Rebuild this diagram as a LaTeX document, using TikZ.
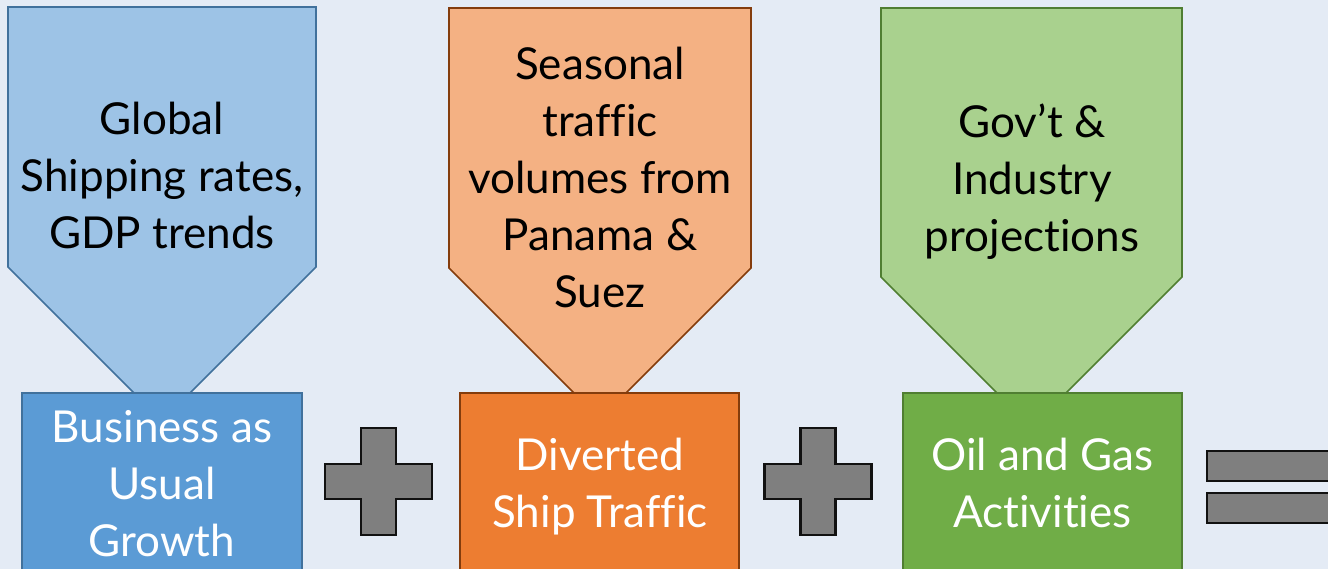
\documentclass[tikz,border=0pt]{standalone}
\usepackage{fontspec}
\setmainfont{Lato}[Ligatures=NoCommon]
\definecolor{bgc}{HTML}{E4EBF5}
\definecolor{blueL}{HTML}{9DC3E6}
\definecolor{blueD}{HTML}{5B9BD5}
\definecolor{blueB}{HTML}{41719C}
\definecolor{orangeL}{HTML}{F4B183}
\definecolor{orangeD}{HTML}{ED7D31}
\definecolor{orangeB}{HTML}{843C0C}
\definecolor{greenL}{HTML}{A9D18E}
\definecolor{greenD}{HTML}{70AD47}
\definecolor{greenB}{HTML}{507E32}
\definecolor{opgray}{HTML}{7F7F7F}
\definecolor{opborder}{HTML}{111111}
\tikzset{
  pent/.style={line width=1.6pt, line join=miter},
  boxshape/.style={line width=2.2pt},
  opshape/.style={fill=opgray, draw=opborder, line width=2.6pt},
  lbl/.style={inner sep=0pt, anchor=base, font=\fontsize{44}{57}\selectfont},
  lblw/.style={lbl, text=white},
}
\newcommand{\lines}[1]{\begin{tabular}[t]{@{}c@{}}#1\end{tabular}}
\begin{document}
\begin{tikzpicture}[x=1pt,y=-1pt]
\useasboundingbox (0,0) rectangle (1328,569);
\clip (0,0) rectangle (1328,569);
\fill[bgc] (0,0) rectangle (1328,569);
% pentagons
\draw[pent, fill=blueL, draw=blueB] (8,7) -- (316,7) -- (316,267) -- (162,421) -- (8,267) -- cycle;
\draw[pent, fill=orangeL, draw=orangeB] (449,8) -- (751,8) -- (751,268) -- (600,419) -- (449,268) -- cycle;
\draw[pent, fill=greenL, draw=greenB] (881,8) -- (1182,8) -- (1182,277) -- (1031.5,427.5) -- (881,277) -- cycle;
% boxes
\draw[boxshape, fill=blueD, draw=blueB] (22,393) rectangle (302,620);
\draw[boxshape, fill=orangeD, draw=orangeB] (460,393) rectangle (739,620);
\draw[boxshape, fill=greenD, draw=greenB] (903,393) rectangle (1182,620);
% pentagon texts
\node[lbl] (t1) at (162,135) {\lines{Global\\Shipping rates,\\GDP trends}};
\node[lbl] (t2) at (600,80) {\lines{Seasonal\\traffic\\volumes from\\Panama \&\\Suez}};
\node[lbl] (t3) at (1032,138) {\lines{Gov’t \&\\Industry\\projections}};
% box texts
\node[lblw] (b1) at (162,442) {\lines{Business as\\Usual\\Growth}};
\node[lblw] (b2) at (600,470) {\lines{Diverted\\Ship Traffic}};
\node[lblw] (b3) at (1042.5,470) {\lines{Oil and Gas\\Activities}};
% plus signs
\path[opshape] (378.5,481.5) ++(-17.5,-53.5) -- ++(35,0) -- ++(0,36) -- ++(36,0) -- ++(0,35) -- ++(-36,0) -- ++(0,36) -- ++(-35,0) -- ++(0,-36) -- ++(-36,0) -- ++(0,-35) -- ++(36,0) -- cycle;
\path[opshape] (818,481.5) ++(-17.5,-53.5) -- ++(35,0) -- ++(0,36) -- ++(36,0) -- ++(0,35) -- ++(-36,0) -- ++(0,36) -- ++(-35,0) -- ++(0,-36) -- ++(-36,0) -- ++(0,-35) -- ++(36,0) -- cycle;
% equals sign
\path[opshape] (1207,451) rectangle (1345,481);
\path[opshape] (1207,493) rectangle (1345,523);
\end{tikzpicture}
\end{document}
